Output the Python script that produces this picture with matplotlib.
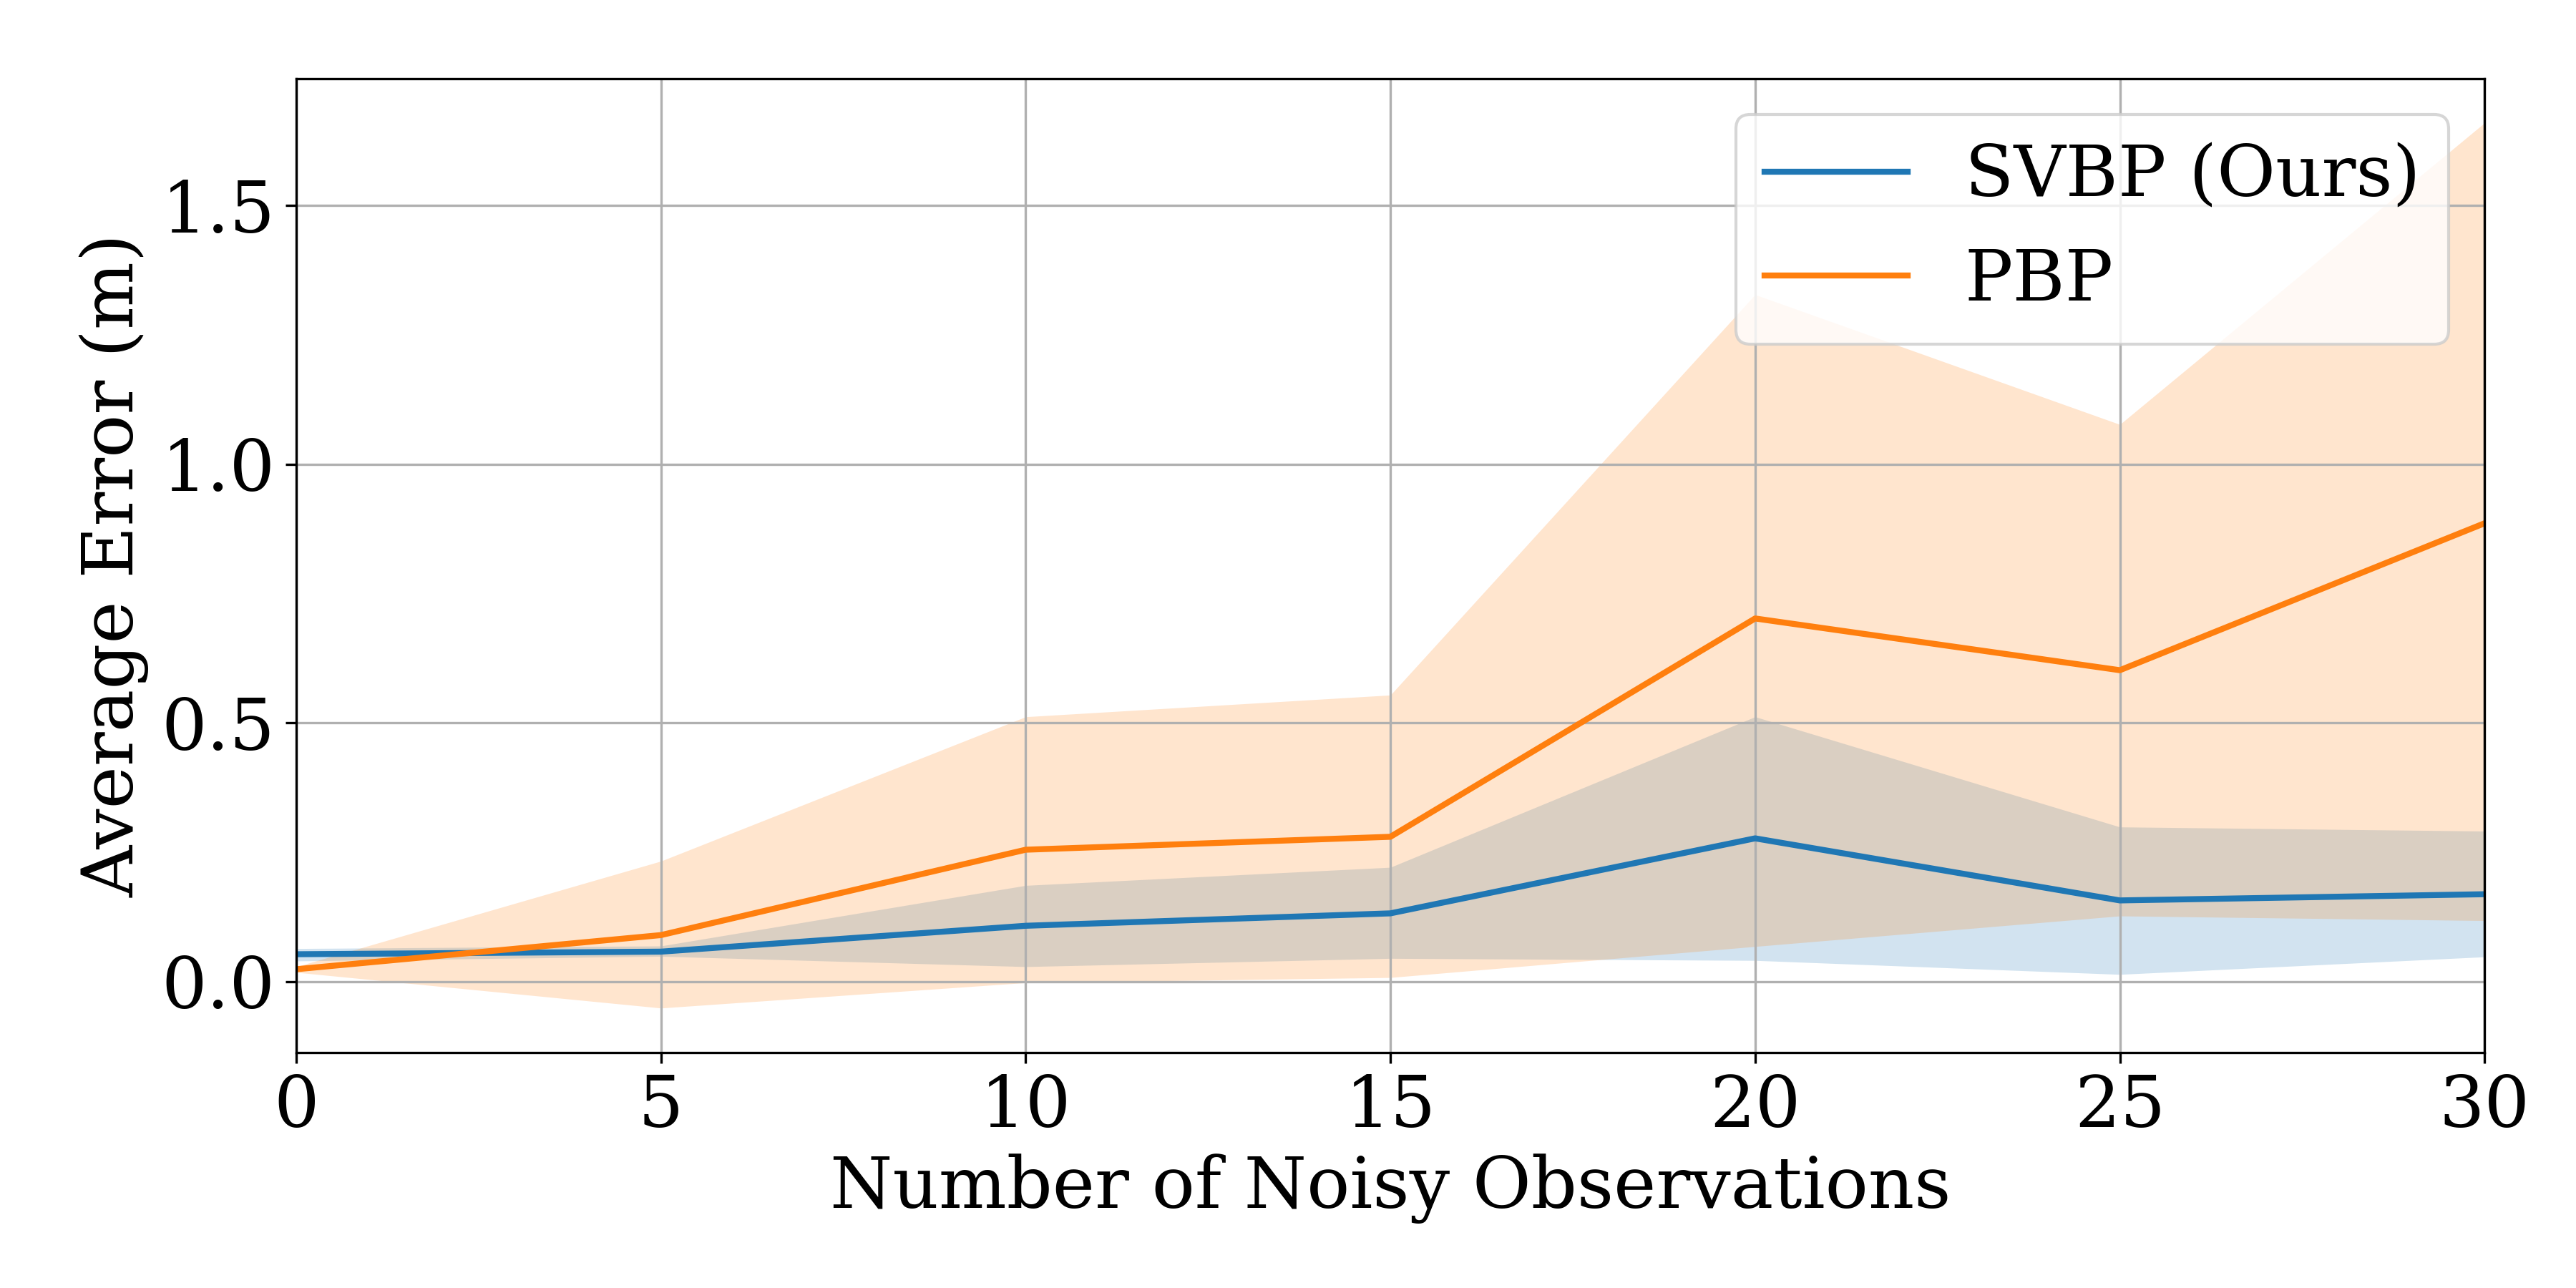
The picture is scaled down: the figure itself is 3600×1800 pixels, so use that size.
import numpy as np
import matplotlib.pyplot as plt

plt.rcParams['font.family'] = 'DejaVu Serif'
plt.rcParams['font.size'] = 24

n_obs = [0, 5, 10, 15, 20, 25, 30]

svbp_mean = [0.053, 0.058, 0.108, 0.132, 0.277, 0.157, 0.169]
svbp_lo = [0.040, 0.049, 0.029, 0.045, 0.041, 0.014, 0.048]
svbp_hi = [0.064, 0.069, 0.186, 0.221, 0.512, 0.299, 0.291]

pbp_mean = [0.024, 0.090, 0.255, 0.280, 0.702, 0.602, 0.886]
pbp_lo = [0.018, -0.051, -0.002, 0.008, 0.068, 0.127, 0.118]
pbp_hi = [0.029, 0.233, 0.512, 0.554, 1.328, 1.077, 1.660]

fig, ax = plt.subplots(figsize=(12, 6), dpi=300)

ax.plot(n_obs, svbp_mean, color='tab:blue', linewidth=2, label='SVBP (Ours)')
ax.fill_between(n_obs, svbp_lo, svbp_hi, color='tab:blue', alpha=0.2, linewidth=0)
ax.plot(n_obs, pbp_mean, color='tab:orange', linewidth=2, label='PBP')
ax.fill_between(n_obs, pbp_lo, pbp_hi, color='tab:orange', alpha=0.2, linewidth=0)

ax.set_xlim(0, 30)
ax.set_yticks([0.0, 0.5, 1.0, 1.5])
ax.set_xlabel('Number of Noisy Observations')
ax.set_ylabel('Average Error (m)')
ax.grid(True)
ax.legend(loc='upper right')

fig.subplots_adjust(left=0.115, right=0.9645, top=0.939, bottom=0.183)
fig.savefig('out.png', dpi=300)
